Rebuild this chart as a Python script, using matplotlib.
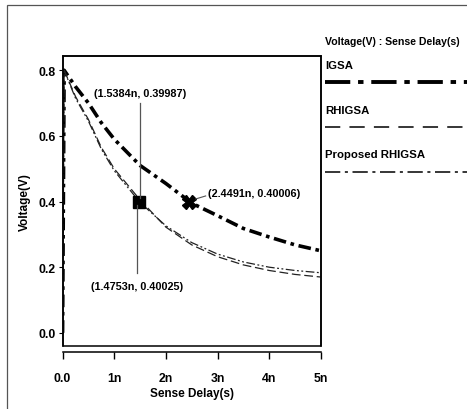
import matplotlib
matplotlib.use("Agg")
import matplotlib.pyplot as plt
from matplotlib.lines import Line2D
from matplotlib.patches import Rectangle

plt.rcParams['font.family'] = ['Liberation Sans Narrow', 'Liberation Sans', 'DejaVu Sans']
plt.rcParams['font.weight'] = 'bold'
plt.rcParams['axes.labelweight'] = 'bold'

# sense delay in ns
t = [0.0, 0.03, 0.25, 0.5, 0.75, 1.0, 1.5, 2.0, 2.5, 3.0, 3.5, 4.0, 4.5, 5.0]
v_igsa = [0.0, 0.80, 0.75, 0.70, 0.64, 0.59, 0.51, 0.455, 0.395, 0.357, 0.318, 0.292, 0.268, 0.25]
v_rhigsa = [0.0, 0.80, 0.72, 0.650, 0.565, 0.500, 0.405, 0.322, 0.268, 0.232, 0.207, 0.190, 0.178, 0.170]
v_proposed = [0.0, 0.80, 0.715, 0.645, 0.560, 0.494, 0.397, 0.326, 0.275, 0.240, 0.216, 0.200, 0.190, 0.183]

labels = ['IGSA', 'RHIGSA', 'Proposed RHIGSA']
points = [(1.4753, 0.40025), (1.5384, 0.39987), (2.4491, 0.40006)]
xticks = [0, 1, 2, 3, 4, 5]
xticklabels = ['0.0', '1n', '2n', '3n', '4n', '5n']
yticks = [0.0, 0.2, 0.4, 0.6, 0.8]

styles = [
    dict(color='black', lw=2.6, dashes=(3.5, 1.3, 1.0, 1.3)),
    dict(color='#222222', lw=0.9, dashes=(7, 3)),
    dict(color='#222222', lw=0.9, dashes=(7, 2, 1.5, 2, 1.5, 2)),
]
leg_styles = [
    dict(color='black', lw=2.8, dashes=(6.5, 2.0, 1.4, 2.0)),
    dict(color='black', lw=1.1, dashes=(10, 6)),
    dict(color='black', lw=1.1, dashes=(10, 3, 2, 3)),
]

fig = plt.figure(figsize=(4.67, 4.10), dpi=100)
ax = fig.add_axes([0.134, 0.1537, 0.553, 0.707])

for v, st in zip([v_igsa, v_rhigsa, v_proposed], styles):
    ax.plot(t, v, **st)

# markers
ax.plot([points[0][0]], [0.40], marker='s', ms=8, color='black', ls='none')
ax.plot([points[2][0]], [0.40], marker='X', ms=9.5, color='black', ls='none')

# annotations
ax.plot([1.50, 1.50], [0.70, 0.41], color='#555555', lw=0.9)
ax.text(1.50, 0.73, '(1.5384n, 0.39987)', ha='center', va='center', fontsize=7.8, fontweight='bold')
ax.plot([1.45, 1.45], [0.39, 0.183], color='#555555', lw=0.9)
ax.text(1.45, 0.143, '(1.4753n, 0.40025)', ha='center', va='center', fontsize=7.8, fontweight='bold')
ax.plot([2.58, 2.77], [0.408, 0.417], color='#555555', lw=0.8)
ax.text(2.82, 0.426, '(2.4491n, 0.40006)', ha='left', va='center', fontsize=7.8, fontweight='bold')

ax.set_xlim(0, 5)
ax.set_ylim(-0.04, 0.843)
ax.set_xticks(xticks)
ax.set_xticklabels(xticklabels, fontweight='bold')
ax.set_yticks(yticks)
ax.set_yticklabels(['%.1f' % y for y in yticks], fontweight='bold')
ax.tick_params(axis='x', direction='out', length=5, width=1, pad=10, labelsize=8.8)
ax.tick_params(axis='y', direction='out', length=3, width=0.8, pad=2, labelsize=8.8)
ax.set_xlabel('Sense Delay(s)', fontsize=8.5, labelpad=2, fontweight='bold')
ax.set_ylabel('Voltage(V)', fontsize=8.5, labelpad=5, fontweight='bold')

for s in ['top', 'right', 'left']:
    ax.spines[s].set_linewidth(1.1)
ax.spines['bottom'].set_position(('outward', 4))
ax.spines['bottom'].set_linewidth(1.1)
ax.add_patch(Rectangle((0, 0), 1, 1, transform=ax.transAxes, fill=False,
                       edgecolor='black', lw=1.1, clip_on=False))

# legend on the right
fig.text(325 / 467, 1 - 42 / 410, 'Voltage(V) : Sense Delay(s)', fontsize=7.6,
         va='center', ha='left', fontweight='bold')
for i, (lab, st) in enumerate(zip(labels, leg_styles)):
    ty = 66 + 44.5 * i
    ly = 83 + 45 * i
    fig.text(325 / 467, 1 - ty / 410, lab, fontsize=8.2, va='center', ha='left', fontweight='bold')
    fig.add_artist(Line2D([325 / 467, 1.0], [1 - ly / 410, 1 - ly / 410],
                          transform=fig.transFigure, **st))

# outer border
fig.add_artist(Rectangle((7 / 467, -0.1), 1.2, 1.1 - 6 / 410, transform=fig.transFigure,
                         fill=False, edgecolor='#555555', lw=0.9))

fig.savefig('out.png', dpi=100)
